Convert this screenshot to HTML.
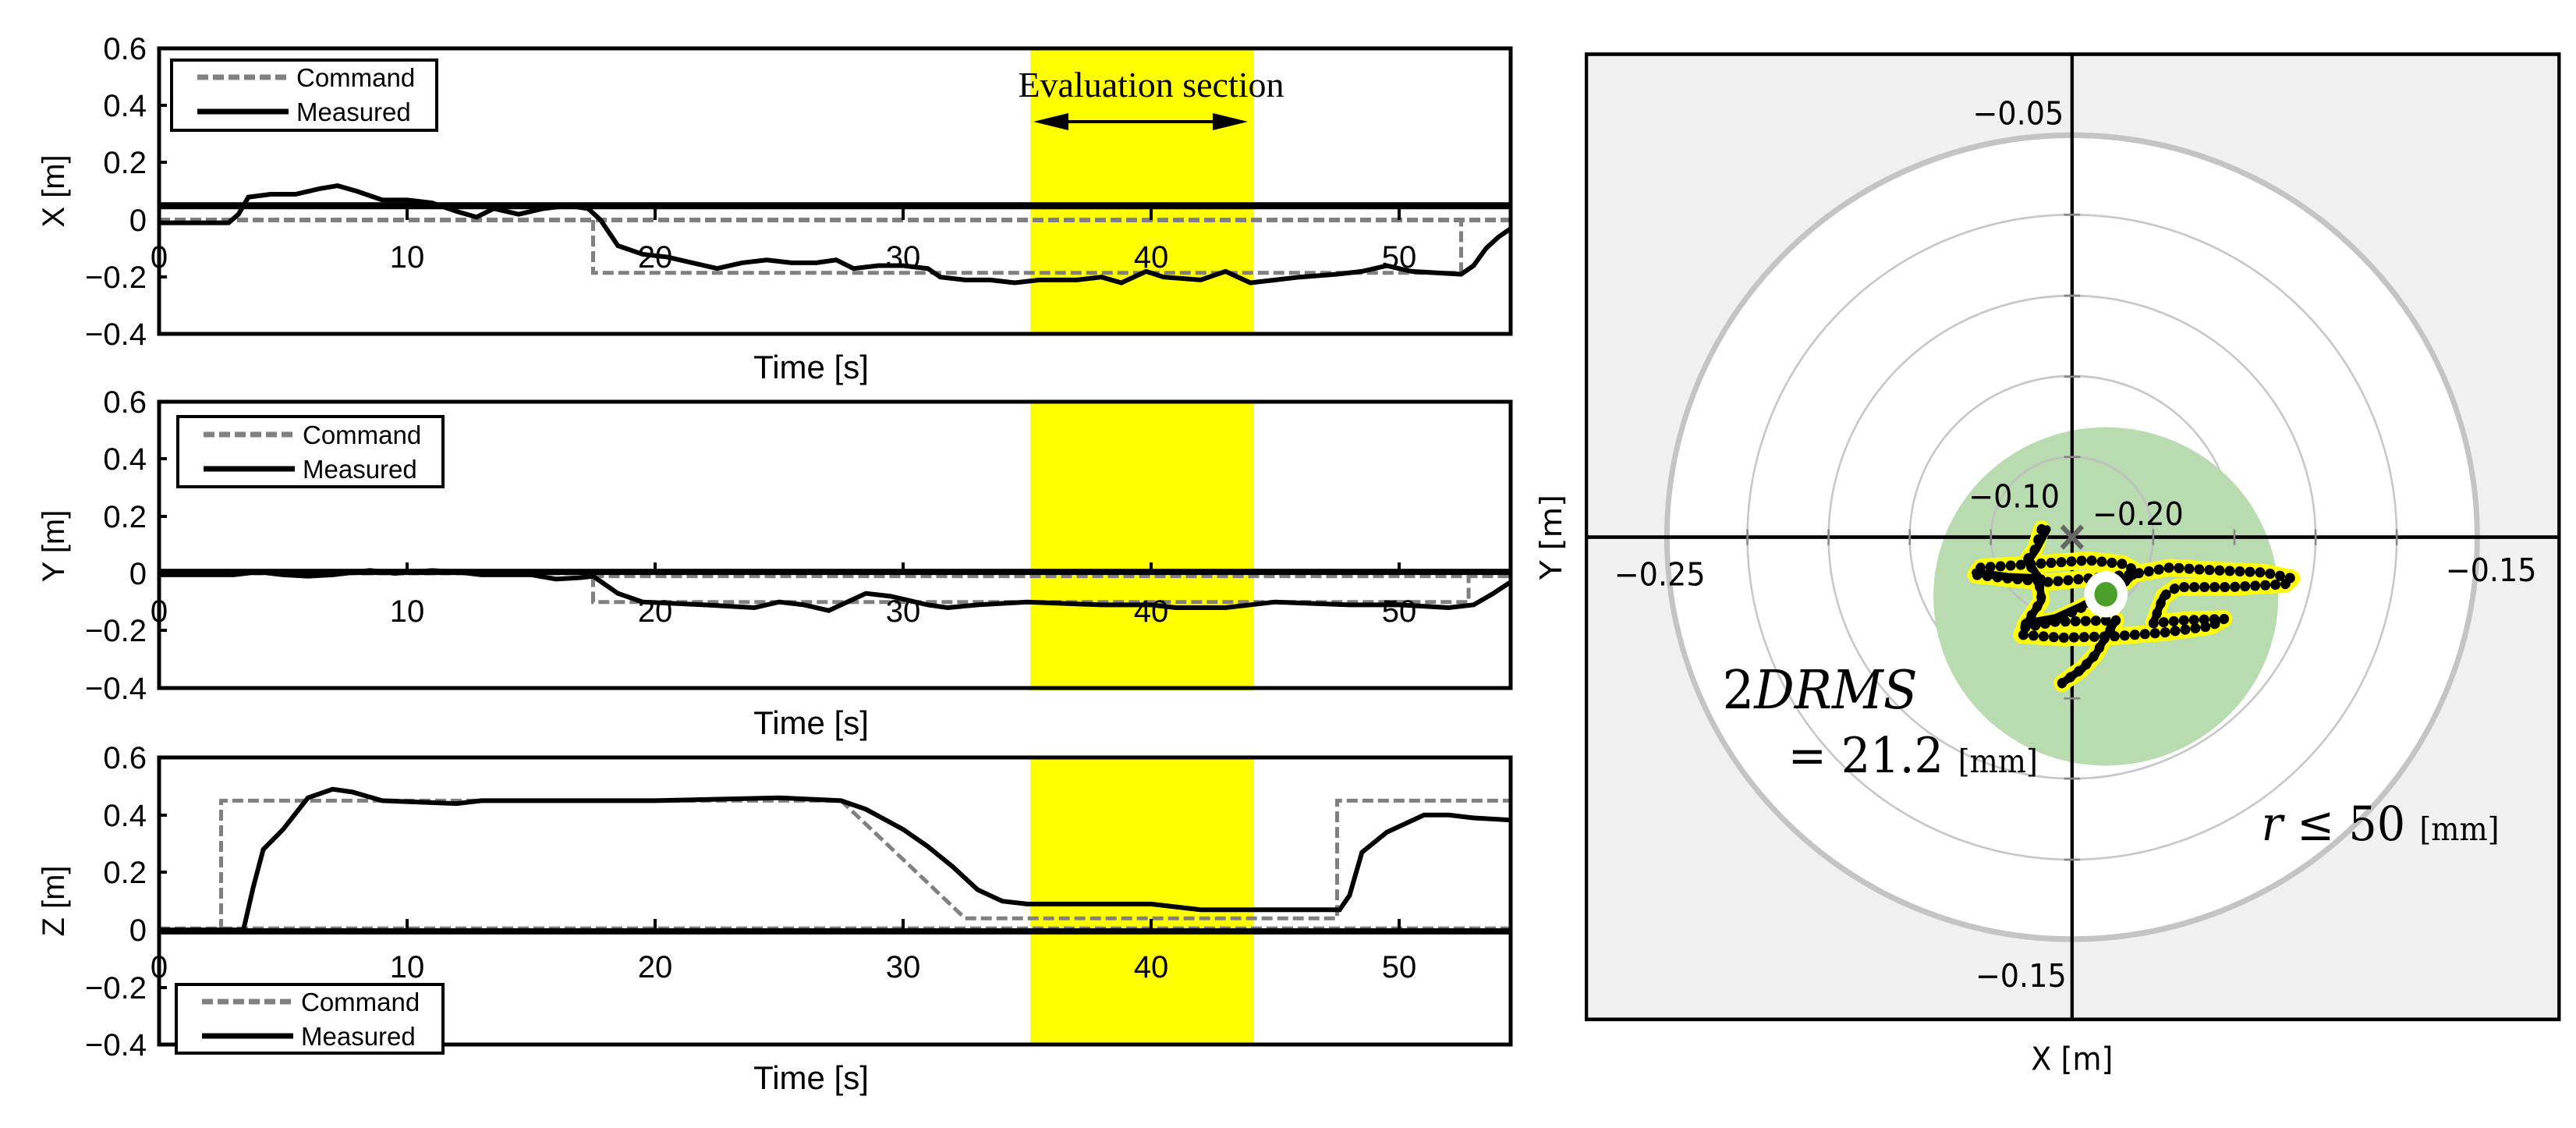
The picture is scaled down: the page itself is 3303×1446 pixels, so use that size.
<!DOCTYPE html>
<html><head><meta charset="utf-8"><style>
html,body{margin:0;padding:0;background:#fff;}
svg{display:block;}
.t{font-family:"Liberation Sans Narrow","Liberation Sans",sans-serif;font-size:40px;fill:#000;}
.lg{font-family:"Liberation Sans",sans-serif;font-size:33px;fill:#000;}
.r{font-family:"DejaVu Sans","Liberation Sans",sans-serif;font-size:44px;fill:#000;}
</style></head><body>
<svg width="3303" height="1446" viewBox="0 0 3303 1446" xmlns="http://www.w3.org/2000/svg">
<defs>
<clipPath id="c1"><rect x="204" y="62" width="1733" height="366"/></clipPath>
<clipPath id="c2"><rect x="204" y="515" width="1733" height="367"/></clipPath>
<clipPath id="c3"><rect x="204" y="971" width="1733" height="368"/></clipPath>
</defs>

<!-- ===== Plot 1 (X) ===== -->
<rect x="1321" y="62" width="287" height="368" fill="#ffff00"/>
<g clip-path="url(#c1)">
<g transform="translate(204,282) scale(31.8,-366)">
<polyline vector-effect="non-scaling-stroke" fill="none" stroke="#808080" stroke-width="6" stroke-dasharray="14,6" points="0,0 55,0"/>
<polyline vector-effect="non-scaling-stroke" fill="none" stroke="#808080" stroke-width="5" stroke-dasharray="14,6" points="17.5,0 17.5,-0.185 52.5,-0.185 52.5,0"/>
<polyline vector-effect="non-scaling-stroke" fill="none" stroke="#000" stroke-width="9" points="0,0.05 55,0.05"/>
<polyline vector-effect="non-scaling-stroke" fill="none" stroke="#000" stroke-width="6" points="0,-0.01 2.8,-0.01 3.2,0.02 3.6,0.08 4.5,0.09 5.5,0.09 6.5,0.11 7.2,0.12 8,0.1 9,0.07 10,0.07 11,0.06 12,0.03 12.8,0.01 13.5,0.04 14.5,0.02 15.5,0.04 16.5,0.05 17.3,0.04 17.8,0 18.5,-0.09 19.5,-0.12 20.5,-0.13 21.5,-0.15 22.5,-0.17 23.5,-0.15 24.5,-0.14 25.5,-0.15 26.5,-0.15 27.3,-0.14 28,-0.17 29,-0.16 30,-0.16 31,-0.17 31.5,-0.2 32.5,-0.21 33.5,-0.21 34.5,-0.22 35.5,-0.21 37,-0.21 38,-0.2 38.8,-0.22 39.8,-0.18 40.5,-0.2 42,-0.21 43,-0.18 44,-0.22 45,-0.21 46,-0.2 47.5,-0.19 48.5,-0.18 49.5,-0.16 50.5,-0.18 52.5,-0.19 53,-0.16 53.5,-0.1 54,-0.06 54.5,-0.03 55,0"/>
</g></g>
<rect x="204" y="62" width="1733" height="366" fill="none" stroke="#000" stroke-width="5"/>
<g stroke="#000" stroke-width="4"><line x1="522" y1="268" x2="522" y2="282"/><line x1="840" y1="268" x2="840" y2="282"/><line x1="1158" y1="268" x2="1158" y2="282"/><line x1="1476" y1="268" x2="1476" y2="282"/><line x1="1794" y1="268" x2="1794" y2="282"/>
<line x1="204" y1="135" x2="214" y2="135"/><line x1="204" y1="208" x2="214" y2="208"/><line x1="204" y1="355" x2="214" y2="355"/></g>
<g class="t" text-anchor="end"><text x="188" y="76">0.6</text><text x="188" y="149">0.4</text><text x="188" y="222">0.2</text><text x="188" y="296">0</text><text x="188" y="369">−0.2</text><text x="188" y="442">−0.4</text></g>
<g class="t" text-anchor="middle"><text x="204" y="343">0</text><text x="522" y="343">10</text><text x="840" y="343">20</text><text x="1158" y="343">30</text><text x="1476" y="343">40</text><text x="1794" y="343">50</text>
<text x="1040" y="485" font-size="42">Time [s]</text></g>
<text class="t" transform="translate(82,245) rotate(-90)" text-anchor="middle" font-size="42">X [m]</text>
<rect x="220" y="77" width="340" height="90" fill="#fff" stroke="#000" stroke-width="4"/>
<line x1="253" y1="99" x2="370" y2="99" stroke="#808080" stroke-width="7" stroke-dasharray="14,6"/>
<line x1="253" y1="143" x2="370" y2="143" stroke="#000" stroke-width="7"/>
<text class="lg" x="380" y="111">Command</text><text class="lg" x="380" y="155">Measured</text>
<text x="1476" y="124" text-anchor="middle" font-family="Liberation Serif,serif" font-size="46" fill="#000">Evaluation section</text>
<line x1="1345" y1="156" x2="1580" y2="156" stroke="#000" stroke-width="4"/>
<polygon points="1325,156 1370,145 1370,167" fill="#000"/><polygon points="1600,156 1555,145 1555,167" fill="#000"/>

<!-- ===== Plot 2 (Y) ===== -->
<rect x="1321" y="515" width="287" height="370" fill="#ffff00"/>
<g clip-path="url(#c2)">
<g transform="translate(204,735) scale(31.8,-367)">
<polyline vector-effect="non-scaling-stroke" fill="none" stroke="#808080" stroke-width="5" stroke-dasharray="14,6" points="0,0 17.5,0 17.5,-0.1 52.8,-0.1 52.8,0"/>
<polyline vector-effect="non-scaling-stroke" fill="none" stroke="#808080" stroke-width="5" stroke-dasharray="14,6" points="17.5,-0.01 55,-0.01"/>
<polyline vector-effect="non-scaling-stroke" fill="none" stroke="#000" stroke-width="8" points="0,0.005 55,0.005"/>
<polyline vector-effect="non-scaling-stroke" fill="none" stroke="#000" stroke-width="6" points="0,-0.005 3,-0.005 4,0.005 5,-0.005 6,-0.01 7,-0.005 8.5,0.01 9.5,0 11,0.01 12,0.005 13,-0.005 15,-0.005 16,-0.02 17,-0.015 17.5,-0.01 18.5,-0.07 19.5,-0.1 22,-0.11 24,-0.12 25,-0.1 26,-0.11 27,-0.13 27.5,-0.11 28.5,-0.07 29.5,-0.08 31,-0.11 31.8,-0.12 33,-0.11 35,-0.1 38,-0.11 40,-0.11 41,-0.12 43,-0.12 45,-0.1 48,-0.11 50,-0.11 52,-0.12 53,-0.11 53.8,-0.07 54.5,-0.03 55,0"/>
</g></g>
<rect x="204" y="515" width="1733" height="367" fill="none" stroke="#000" stroke-width="5"/>
<g stroke="#000" stroke-width="4"><line x1="522" y1="721" x2="522" y2="735"/><line x1="840" y1="721" x2="840" y2="735"/><line x1="1158" y1="721" x2="1158" y2="735"/><line x1="1476" y1="721" x2="1476" y2="735"/><line x1="1794" y1="721" x2="1794" y2="735"/>
<line x1="204" y1="588" x2="214" y2="588"/><line x1="204" y1="662" x2="214" y2="662"/><line x1="204" y1="808" x2="214" y2="808"/></g>
<g class="t" text-anchor="end"><text x="188" y="529">0.6</text><text x="188" y="602">0.4</text><text x="188" y="676">0.2</text><text x="188" y="749">0</text><text x="188" y="822">−0.2</text><text x="188" y="896">−0.4</text></g>
<g class="t" text-anchor="middle"><text x="204" y="797">0</text><text x="522" y="797">10</text><text x="840" y="797">20</text><text x="1158" y="797">30</text><text x="1476" y="797">40</text><text x="1794" y="797">50</text>
<text x="1040" y="941" font-size="42">Time [s]</text></g>
<text class="t" transform="translate(82,700) rotate(-90)" text-anchor="middle" font-size="42">Y [m]</text>
<rect x="228" y="534" width="340" height="90" fill="#fff" stroke="#000" stroke-width="4"/>
<line x1="261" y1="557" x2="378" y2="557" stroke="#808080" stroke-width="7" stroke-dasharray="14,6"/>
<line x1="261" y1="601" x2="378" y2="601" stroke="#000" stroke-width="7"/>
<text class="lg" x="388" y="569">Command</text><text class="lg" x="388" y="613">Measured</text>

<!-- ===== Plot 3 (Z) ===== -->
<rect x="1321" y="971" width="287" height="370" fill="#ffff00"/>
<g clip-path="url(#c3)">
<g transform="translate(204,1192) scale(31.8,-368)">
<polyline vector-effect="non-scaling-stroke" fill="none" stroke="#808080" stroke-width="5" stroke-dasharray="14,6" points="0,0.005 55,0.005"/>
<polyline vector-effect="non-scaling-stroke" fill="none" stroke="#000" stroke-width="8" points="0,-0.005 55,-0.005"/>
<polyline vector-effect="non-scaling-stroke" fill="none" stroke="#808080" stroke-width="5" stroke-dasharray="14,6" points="2.5,0 2.5,0.45 27.5,0.45 32.5,0.04 47.5,0.04 47.5,0.45 55,0.45"/>
<polyline vector-effect="non-scaling-stroke" fill="none" stroke="#000" stroke-width="6" points="0,0 3.4,0 3.8,0.15 4.2,0.28 5,0.35 6,0.46 7,0.49 7.8,0.48 9,0.45 12,0.44 13,0.45 20,0.45 25,0.46 27.5,0.45 28.5,0.42 30,0.35 31,0.29 32,0.22 33,0.14 34,0.1 35,0.09 38,0.09 40,0.09 42,0.07 45,0.07 47.6,0.07 48,0.12 48.5,0.27 49.5,0.34 51,0.4 52,0.4 53,0.39 55,0.38"/>
</g></g>
<rect x="204" y="971" width="1733" height="368" fill="none" stroke="#000" stroke-width="5"/>
<g stroke="#000" stroke-width="4"><line x1="522" y1="1178" x2="522" y2="1192"/><line x1="840" y1="1178" x2="840" y2="1192"/><line x1="1158" y1="1178" x2="1158" y2="1192"/><line x1="1476" y1="1178" x2="1476" y2="1192"/><line x1="1794" y1="1178" x2="1794" y2="1192"/>
<line x1="204" y1="1045" x2="214" y2="1045"/><line x1="204" y1="1118" x2="214" y2="1118"/><line x1="204" y1="1266" x2="214" y2="1266"/></g>
<g class="t" text-anchor="end"><text x="188" y="985">0.6</text><text x="188" y="1059">0.4</text><text x="188" y="1132">0.2</text><text x="188" y="1206">0</text><text x="188" y="1280">−0.2</text><text x="188" y="1353">−0.4</text></g>
<g class="t" text-anchor="middle"><text x="204" y="1253">0</text><text x="522" y="1253">10</text><text x="840" y="1253">20</text><text x="1158" y="1253">30</text><text x="1476" y="1253">40</text><text x="1794" y="1253">50</text>
<text x="1040" y="1396" font-size="42">Time [s]</text></g>
<text class="t" transform="translate(82,1155) rotate(-90)" text-anchor="middle" font-size="42">Z [m]</text>
<rect x="226" y="1262" width="342" height="88" fill="#fff" stroke="#000" stroke-width="4"/>
<line x1="259" y1="1284" x2="376" y2="1284" stroke="#808080" stroke-width="7" stroke-dasharray="14,6"/>
<line x1="259" y1="1328" x2="376" y2="1328" stroke="#000" stroke-width="7"/>
<text class="lg" x="386" y="1296">Command</text><text class="lg" x="386" y="1340">Measured</text>

<!-- ===== Right panel (zoom coords) ===== -->
<g transform="translate(1950,0) scale(0.8673,0.9268)">
<rect x="97" y="75" width="1438" height="1335" fill="#f0f0f0"/>
<ellipse cx="815" cy="743" rx="599" ry="556" fill="#fff" stroke="#c4c4c4" stroke-width="8"/>
<g fill="none" stroke="#c8c8c8" stroke-width="3">
<ellipse cx="815" cy="743" rx="480" ry="446"/><ellipse cx="815" cy="743" rx="360" ry="334"/><ellipse cx="815" cy="743" rx="240" ry="223"/><ellipse cx="815" cy="743" rx="120" ry="111"/>
</g>
<ellipse cx="865" cy="825" rx="255" ry="234" fill="#b8dbb0"/>
<ellipse cx="815" cy="743" rx="120" ry="111" fill="none" stroke="#c0c0c0" stroke-width="3"/>
<line x1="97" y1="743" x2="1535" y2="743" stroke="#000" stroke-width="5"/>
<line x1="815" y1="75" x2="815" y2="1410" stroke="#000" stroke-width="5"/>
<g stroke="#888" stroke-width="3">
<line x1="335" y1="732" x2="335" y2="754"/><line x1="455" y1="732" x2="455" y2="754"/><line x1="575" y1="732" x2="575" y2="754"/><line x1="695" y1="732" x2="695" y2="754"/><line x1="935" y1="732" x2="935" y2="754"/><line x1="1055" y1="732" x2="1055" y2="754"/><line x1="1175" y1="732" x2="1175" y2="754"/><line x1="1295" y1="732" x2="1295" y2="754"/>
<line x1="803" y1="297" x2="827" y2="297"/><line x1="803" y1="409" x2="827" y2="409"/><line x1="803" y1="521" x2="827" y2="521"/><line x1="803" y1="632" x2="827" y2="632"/><line x1="803" y1="855" x2="827" y2="855"/><line x1="803" y1="966" x2="827" y2="966"/><line x1="803" y1="1077" x2="827" y2="1077"/><line x1="803" y1="1189" x2="827" y2="1189"/>
</g>
<g fill="none" stroke-linecap="round" stroke-linejoin="round">
<polyline stroke="#ffff00" stroke-width="24" points="770,732 760,760 748,775 765,800 770,830 745,865 790,858 830,840 870,820 900,800 910,790 890,780 840,775 760,780 680,785 672,795 720,800 780,805 840,800 900,795 960,785 1010,788 1100,792 1140,800 1130,808 1050,812 970,812 950,825 935,862 980,858 1040,856 1020,866 950,875 880,880 800,882 740,878 745,868 790,860 880,858 865,880 850,905 830,925 800,945"/>
<polyline stroke="#000" stroke-width="14" stroke-dasharray="1,14" points="770,732 760,760 748,775 765,800 770,830 745,865 790,858 830,840 870,820 900,800 910,790 890,780 840,775 760,780 680,785 672,795 720,800 780,805 840,800 900,795 960,785 1010,788 1100,792 1140,800 1130,808 1050,812 970,812 950,825 935,862 980,858 1040,856 1020,866 950,875 880,880 800,882 740,878 745,868 790,860 880,858 865,880 850,905 830,925 800,945"/>
<polyline stroke="#000" stroke-width="11" points="778,732 762,760 750,776 766,800 770,830 748,862 790,855 830,838 870,818 900,800 905,792"/>
<polyline stroke="#000" stroke-width="11" points="672,792 720,798 770,800"/>
<polyline stroke="#000" stroke-width="11" points="950,825 935,862"/>
<polyline stroke="#000" stroke-width="11" points="880,858 865,880 850,905 830,925 800,945"/>
</g>
<g stroke="#666" stroke-width="7"><line x1="800" y1="728" x2="830" y2="758"/><line x1="830" y1="728" x2="800" y2="758"/></g>
<circle cx="865" cy="822" r="32" fill="#fff"/>
<circle cx="865" cy="822" r="17" fill="#4aa02a"/>
<g class="r">
<text x="668" y="172">−0.05</text>
<text x="662" y="702">−0.10</text>
<text x="845" y="726">−0.20</text>
<text x="138" y="810">−0.25</text>
<text x="1367" y="804">−0.15</text>
<text x="672" y="1365">−0.15</text>
<text x="815" y="1480" text-anchor="middle">X [m]</text>
<text transform="translate(60,743) rotate(-90)" text-anchor="middle">Y [m]</text>
</g>
<g font-family="DejaVu Serif,Liberation Serif,serif" fill="#000">
<text x="298" y="980" font-size="74"><tspan>2</tspan><tspan font-style="italic">DRMS</tspan></text>
<text x="395" y="1068" font-size="68">= 21.2 <tspan font-size="44">[mm]</tspan></text>
<text x="1095" y="1162" font-size="66"><tspan font-style="italic">r</tspan> ≤ 50 <tspan font-size="44">[mm]</tspan></text>
</g>
<rect x="97" y="75" width="1438" height="1335" fill="none" stroke="#000" stroke-width="5"/>
</g>
</svg>
</body></html>
